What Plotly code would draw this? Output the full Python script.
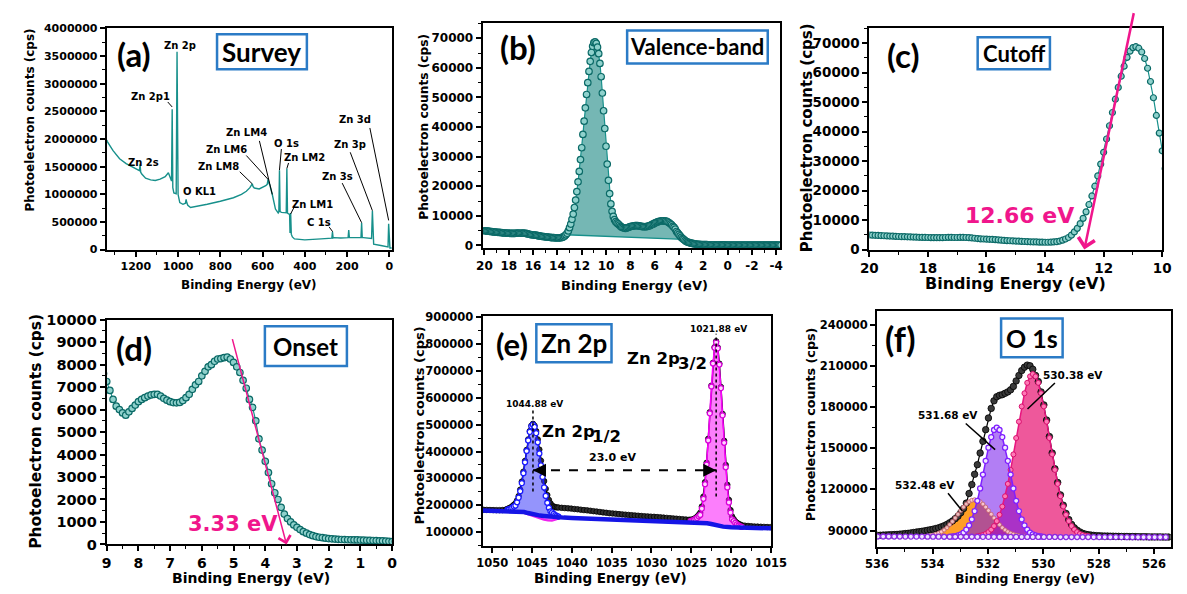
import numpy as np
import plotly.graph_objects as go

W, H = 1187, 594

TEAL = "#17908b"
TEAL_EDGE = "#0b6a67"
TEAL_FACE = "#8fd1cc"
PINK = "#f0168c"
FRAME_BLUE = "#2b7bc6"
TICK_FAMILY = "DejaVu Sans"
LETTER_FAMILY = "Lato"

# ---------------- (a) survey scan ----------------
survey_be = [1338, 1335, 1308, 1277, 1246, 1215, 1192, 1183, 1180, 1177, 1172, 1154, 1130, 1108, 1085,
             1061, 1046, 1036, 1031, 1028, 1025, 1020, 1009, 1005, 1002, 1000, 992, 977, 965, 962,
             959, 954, 941, 900, 862, 800, 738, 700, 677, 660, 653, 649, 645, 639, 616,
             600, 585, 578, 574, 570, 566, 554, 539, 526, 523, 520, 517, 511, 492, 488,
             485, 482, 477, 472, 470, 467, 464, 459, 449, 400, 323, 277, 272, 269, 266,
             262, 230, 195, 192, 189, 185, 150, 134, 131, 128, 123, 92, 84, 80, 77,
             74, 40, 16, 6, 3, 0, -3, -12]
survey_counts = [1980000, 1954000, 1789000, 1643000, 1555000, 1496000, 1455000, 1430000, 1543000, 1400000,
                 1367000, 1291000, 1262000, 1250000, 1275000,
                 1320000, 1391000, 1291000, 1240000, 2540000, 1120000, 1026000, 1010000, 3580000, 1000000,
                 996000, 850000, 820000, 840000, 908000,
                 850000, 803000, 762000, 790000, 820000, 875000, 938000, 1000000, 1056000, 1120000,
                 1160000, 1190000, 1140000, 1114000, 1097000,
                 1120000, 1155000, 1180000, 1273000, 1200000, 1173000, 996000, 733000, 662000, 680000,
                 1437000, 690000, 674000, 662000, 665000,
                 1467000, 660000, 645000, 640000, 300000, 662000, 280000, 230000, 194000, 176000,
                 194000, 205000, 208000, 322000, 210000,
                 217000, 210000, 217000, 352000, 217000, 217000, 212000, 217000, 486000, 217000,
                 217000, 205000, 200000, 704000, 110000,
                 99000, 75000, 58000, 50000, 469000, 35000, 29000, 29000]

survey_names = ["Zn 2p", "Zn 2p1", "Zn 2s", "O KL1", "Zn LM8", "Zn LM6", "Zn LM4", "O 1s",
                "Zn LM2", "Zn LM1", "C 1s", "Zn 3s", "Zn 3p", "Zn 3d"]

# ---------------- (b)-(d) valence-band scan, 0.1 eV steps from 20 eV ----------------
VB_START, VB_STEP = 20.0, 0.1
vb_counts = [
    4950, 4900, 4850, 4800, 4760, 4700, 4650, 4600, 4560, 4500,
    4450, 4400, 4380, 4350, 4300, 4250, 4200, 4180, 4150, 4120,
    4100, 4080, 4050, 4050, 4030, 4050, 4100, 4150, 4150, 4100,
    4100, 4150, 4150, 4100, 4050, 3950, 3850, 3750, 3650, 3600,
    3550, 3500, 3450, 3400, 3300, 3200, 3100, 3050, 3000, 2950,
    2900, 2850, 2800, 2750, 2700, 2650, 2600, 2600, 2550, 2550,
    2500, 2500, 2550, 2600, 2700, 2900, 3200, 3600, 4100, 4900,
    6000, 7200, 8800, 10600, 12800, 15300, 18200, 21500, 25000, 29000,
    33000, 37500, 42000, 46500, 51000, 55000, 58800, 62200, 65200, 67300,
    68500, 68800, 68300, 67000, 64800, 61500, 57000, 51500, 45500, 39500,
    33500, 27500, 22000, 17500, 14000, 11500, 9800, 8700, 8000, 7600,
    7250, 6850, 6450, 6150, 6000, 5850, 5750, 5900, 6050, 6200,
    6350, 6450, 6530, 6600, 6650, 6680, 6680, 6600, 6500, 6420,
    6350, 6310, 6300, 6320, 6400, 6530, 6680, 6900, 7100, 7250,
    7500, 7700, 7900, 8000, 8150, 8250, 8270, 8310, 8330, 8250,
    8100, 7900, 7650, 7300, 6950, 6450, 6100, 5500, 4700, 4200,
    3700, 3200, 2700, 2300, 2000, 1650, 1350, 1150, 1000, 870,
    760, 660, 570, 500, 440, 390, 350, 320, 300, 280,
    260, 250, 240, 230, 220, 215, 210, 205, 200, 200,
    195, 190, 185, 180, 175, 170, 160, 155, 150, 140,
    130, 130, 125, 125, 120, 120, 118, 115, 115, 112,
    110, 110, 108, 105, 105, 102, 100, 100, 98, 95,
    95, 92, 90, 90, 88, 85, 85, 82, 80, 80,
    78, 75, 75, 72, 70, 70, 68, 65, 65, 62,
    60, 60, 58, 55, 55,
]
vb_bg_be = [13.3, 3.6]
vb_bg_counts = [3600, 2000]
CUTOFF_EV = 12.66
ONSET_EV = 3.33
vb_ticks = [20, 18, 16, 14, 12, 10, 8, 6, 4, 2, 0, -2, -4]

# ---------------- (e) Zn 2p ----------------
P12_EV, P32_EV, SPLIT_EV = 1044.88, 1021.88, 23.0
# measured counts, piecewise sampled: (start eV, step eV, counts)
e_segments = [
    (1051.08, 0.4, [183000, 182600, 182300, 182000, 181800, 181800, 182200, 183800]),
    (1048.08, 0.2, [186500, 189000, 192000, 196500, 201500, 207000, 218000, 234000, 258000, 288000,
                    325000, 365000, 406000, 445000, 476000, 496000, 503000, 496000, 476000, 445000,
                    407000, 366000, 326000, 290000, 261000, 238000, 220000, 207000, 199000, 195000,
                    193000, 192000, 191500]),
    (1041.28, 0.4, [190500, 189500, 188500, 187500, 186000, 185000, 183500, 182000, 181000, 179500,
                    178000, 176500, 175000, 173500, 172000, 170500, 169500, 168500, 167000, 166000,
                    165000, 164000, 163000, 162000, 161000, 160000, 159000, 158500, 157500, 157000,
                    156000, 155000, 154000, 153000, 152000, 151000, 150000, 149000, 148000, 147000,
                    146000]),
    (1025.08, 0.2, [146000, 147000, 149000, 152500, 157500, 164000, 172000, 195000, 232000, 286000,
                    358000, 447000, 546000, 645000, 730000, 788000, 810000, 787000, 727000, 640000,
                    540000, 440000, 350000, 276000, 220000, 182000, 158000, 148000, 140000, 135000,
                    131000, 128000, 126000]),
    (1018.28, 0.4, [124000, 123000, 122000, 121000, 120500, 120000, 119500, 119000, 118500]),
]
# fitted components (0.2 eV steps)
e_p12_start = 1048.08
e_p12 = [183300, 185300, 187800, 191200, 195700, 198900, 211100, 228400, 252200, 282500,
         319300, 359900, 401800, 441200, 473100, 493800, 500000, 491300, 468600, 434200,
         392800, 348400, 305300, 266500, 234700, 209400, 190600, 177400, 173200, 167700,
         163500, 160300, 157800]
e_p32_start = 1025.08
e_p32 = [141400, 143000, 145200, 148800, 153100, 158900, 164000, 187600, 224100, 278300,
         351700, 441400, 542000, 641900, 727500, 785900, 806000, 783900, 723500, 635900,
         534500, 432400, 341200, 266300, 210600, 172600, 147500, 141100, 134100, 129100,
         124700, 121700, 119400]
e_bg_be = [1051.2, 1050, 1049, 1048, 1047.5, 1047, 1046.5, 1046, 1045.5, 1045,
           1044.5, 1044, 1043.5, 1043, 1042.5, 1042, 1041, 1040, 1038, 1036,
           1034, 1032, 1030, 1028, 1026, 1025, 1024, 1023, 1022.5, 1022,
           1021.5, 1021, 1020, 1019, 1018, 1017, 1016, 1015]
e_bg_counts = [180500, 180000, 180000, 179500, 179000, 178000, 176500, 175000, 171000, 167000,
               164000, 161500, 160000, 158000, 156500, 155500, 154000, 152500, 150000, 147500,
               145000, 143000, 141000, 139500, 138000, 137500, 136000, 133000, 130000, 126000,
               122500, 120500, 118500, 117000, 116000, 115000, 114500, 114000]
e_bg2_be = [1047.5, 1047, 1046.5, 1046, 1045.5, 1045, 1044.5, 1044, 1043.5, 1043, 1042.5, 1042, 1041.5]
e_bg2_counts = [179000, 177500, 175000, 171000, 166000, 160500, 155000, 150000, 146000, 143000,
                142500, 147000, 152500]

# ---------------- (f) O 1s ----------------
O_PEAKS = [530.38, 531.68, 532.48]
f_start = 535.98
f_counts = [
    86500, 86600, 86700, 86800, 86900, 87000, 87100, 87200, 87400, 87600,
    87800, 88000, 88300, 88600, 88900, 89200, 89500, 89800, 90200, 90600,
    91000, 91500, 92000, 92700, 93500, 94500, 95700, 97000, 98700, 100500,
    103000, 106000, 110000, 117000, 123500, 131000, 138000, 146500, 155000, 163500,
    172000, 179000, 184500, 187500, 188500, 189000, 190000, 191000, 192500, 195000,
    199000, 203000, 206500, 209000, 210500, 210000, 207500, 203000, 198500, 191000,
    181500, 170500, 158500, 146500, 135000, 125000, 116000, 108500, 102500, 98000,
    94500, 92000, 90300, 89000, 88000, 87400, 87000, 86700, 86500, 86300,
    86200, 86100, 86000, 86000, 85900, 85900, 85800, 85800, 85700, 85700,
    85700, 85600, 85600, 85600, 85500, 85500, 85500, 85500, 85400, 85400,
    85400, 85400, 85400, 85300, 85300, 85300,
]
f_pink_start = 532.38
f_pink = [86000, 86300, 86800, 87600, 88900, 90700, 93300, 96900, 101500, 107500,
          115000, 124000, 134200, 145500, 157400, 169300, 180400, 190000, 197600, 202300,
          204000, 202300, 197600, 190000, 180400, 169300, 157400, 145500, 134200, 124000,
          115000, 107500, 101500, 96900, 93300, 90700, 88900, 87600, 86800, 86300, 86000]
f_purple_start = 533.28
f_purple = [85700, 86000, 86500, 87200, 88500, 90700, 93800, 98200, 104200, 111700,
            120700, 130800, 140800, 150400, 158100, 163300, 165000, 163300, 158100, 150400,
            140800, 130800, 120700, 111700, 104200, 98200, 93800, 90700, 88500, 87200,
            86500, 86000, 85700]
f_orange_start = 534.28
f_orange = [85800, 86000, 86300, 86700, 87300, 88100, 89100, 90500, 92100, 94300,
            96600, 99200, 101900, 104600, 107100, 109300, 111000, 112100, 112500, 112100,
            111000, 109300, 107100, 104600, 101900, 99200, 96600, 94300, 92100, 90500,
            89100, 88100, 87300, 86700, 86300, 86000, 85800]
f_base_start = 535.98
f_base = [85700, 85700, 85700, 85650, 85650, 85600, 85600, 85600, 85600, 85550,
          85550, 85550, 85500, 85500, 85500, 85500, 85500, 85500, 85450, 85450,
          85450, 85450, 85400, 85400, 85400, 85400, 85400, 85400, 85350, 85350,
          85350, 85350, 85350, 85300, 85300, 85300, 85300, 85300, 85300, 85250,
          85250, 85250, 85250, 85250, 85250, 85200, 85200, 85200, 85200, 85200,
          85200, 85200, 85200]


def grid(start, step, n):
    return np.round(start - step * np.arange(n), 2)


def closed_region(x_top, y_top, x_low, y_low):
    """Polygon running along the upper curve and back along the lower one."""
    x_top, y_top = np.asarray(x_top, float), np.asarray(y_top, float)
    x_low, y_low = np.asarray(x_low, float), np.asarray(y_low, float)
    lo, hi = x_top.min(), x_top.max()
    keep = (x_low >= lo - 1e-9) & (x_low <= hi + 1e-9)
    xl, yl = x_low[keep], y_low[keep]
    order = np.argsort(xl)  # x_top runs high -> low, so return low -> high
    return list(x_top) + list(xl[order]), list(y_top) + list(yl[order])


traces = []

# (a)
traces.append(go.Scatter(x=survey_be, y=survey_counts, mode="lines",
                         line=dict(color=TEAL, width=1.4), xaxis="x", yaxis="y"))

# valence band arrays
vb_be = grid(VB_START, VB_STEP, len(vb_counts))
vb_arr = np.array(vb_counts, float)


def vb_marker(size):
    return dict(symbol="circle", size=size, color=TEAL_FACE, line=dict(color=TEAL_EDGE, width=1.2))


# (b)
sel = (vb_be <= vb_bg_be[0] + 1e-9) & (vb_be >= vb_bg_be[1] - 1e-9)
bx, by = closed_region(vb_be[sel], vb_arr[sel], vb_bg_be, vb_bg_counts)
traces.append(go.Scatter(x=bx, y=by, fill="toself", fillcolor="rgba(25,135,130,0.6)",
                         mode="lines", line=dict(width=0), xaxis="x2", yaxis="y2"))
traces.append(go.Scatter(x=vb_bg_be, y=vb_bg_counts, mode="lines",
                         line=dict(color=TEAL, width=1.3), xaxis="x2", yaxis="y2"))
traces.append(go.Scatter(x=vb_be, y=vb_arr, mode="lines+markers", line=dict(color=TEAL, width=1.2),
                         marker=vb_marker(6.5), xaxis="x2", yaxis="y2"))
# (c)
traces.append(go.Scatter(x=vb_be, y=vb_arr, mode="lines+markers", line=dict(color=TEAL, width=1.2),
                         marker=vb_marker(6), xaxis="x3", yaxis="y3"))
# (d)
traces.append(go.Scatter(x=vb_be, y=vb_arr, mode="lines+markers", line=dict(color=TEAL, width=1.2),
                         marker=vb_marker(6.5), xaxis="x4", yaxis="y4"))

# (e)
e_be, e_counts = [], []
for start, step, vals in e_segments:
    e_be += list(grid(start, step, len(vals)))
    e_counts += vals
p12_be = grid(e_p12_start, 0.2, len(e_p12))
p32_be = grid(e_p32_start, 0.2, len(e_p32))

traces.append(go.Scatter(x=e_be, y=e_counts, mode="lines+markers", line=dict(color="black", width=1.5),
                         marker=dict(size=5.5, color="#2e2e2e", line=dict(color="black", width=0.8)),
                         xaxis="x5", yaxis="y5"))
fx, fy = closed_region(p12_be, e_p12, e_bg_be, e_bg_counts)
traces.append(go.Scatter(x=fx, y=fy, fill="toself", fillcolor="rgba(60,60,250,0.55)", mode="lines",
                         line=dict(width=0), xaxis="x5", yaxis="y5"))
fx, fy = closed_region(p32_be, e_p32, e_bg_be, e_bg_counts)
traces.append(go.Scatter(x=fx, y=fy, fill="toself", fillcolor="rgba(250,20,250,0.55)", mode="lines",
                         line=dict(width=0), xaxis="x5", yaxis="y5"))
fx, fy = closed_region(e_bg2_be, e_bg2_counts, e_bg_be, e_bg_counts)
traces.append(go.Scatter(x=fx, y=fy, fill="toself", fillcolor="rgba(240,40,240,0.7)", mode="lines",
                         line=dict(width=0), xaxis="x5", yaxis="y5"))
traces.append(go.Scatter(x=e_bg2_be, y=e_bg2_counts, mode="lines", line=dict(color="#ee22ee", width=2),
                         xaxis="x5", yaxis="y5"))
traces.append(go.Scatter(x=p12_be, y=e_p12, mode="lines+markers", line=dict(color="#1a1aff", width=1.5),
                         marker=dict(size=5, color="white", line=dict(color="#1a1aff", width=1.3)),
                         xaxis="x5", yaxis="y5"))
traces.append(go.Scatter(x=p32_be, y=e_p32, mode="lines+markers", line=dict(color="#ff00ff", width=1.5),
                         marker=dict(size=5, color="#ffd6ff", line=dict(color="#d800d8", width=1.3)),
                         xaxis="x5", yaxis="y5"))
traces.append(go.Scatter(x=e_bg_be, y=e_bg_counts, mode="lines", line=dict(color="#1515e6", width=4.5),
                         xaxis="x5", yaxis="y5"))

# (f)
f_be = grid(f_start, 0.1, len(f_counts))
pink_be = grid(f_pink_start, 0.1, len(f_pink))
purple_be = grid(f_purple_start, 0.1, len(f_purple))
orange_be = grid(f_orange_start, 0.1, len(f_orange))
base_be = grid(f_base_start, 0.2, len(f_base))

for cx, cy, col in [(orange_be, f_orange, "rgba(255,150,20,0.92)"),
                    (pink_be, f_pink, "rgba(232,30,120,0.74)"),
                    (purple_be, f_purple, "rgba(115,20,235,0.55)")]:
    fx, fy = closed_region(cx, cy, base_be, f_base)
    traces.append(go.Scatter(x=fx, y=fy, fill="toself", fillcolor=col, mode="lines",
                             line=dict(width=0), xaxis="x6", yaxis="y6"))
traces.append(go.Scatter(x=f_be, y=f_counts, mode="lines+markers", line=dict(color="black", width=1.2),
                         marker=dict(size=6.5, color="#3a3a3a", line=dict(color="black", width=0.8)),
                         xaxis="x6", yaxis="y6"))
traces.append(go.Scatter(x=orange_be, y=f_orange, mode="markers",
                         marker=dict(size=4, color="rgba(255,205,205,0.9)", line=dict(color="#c0606a", width=0.8)),
                         xaxis="x6", yaxis="y6"))
traces.append(go.Scatter(x=pink_be, y=f_pink, mode="lines+markers", line=dict(color="#e8157f", width=1.5),
                         marker=dict(size=5, color="#ff78b5", line=dict(color="#d8106e", width=1)),
                         xaxis="x6", yaxis="y6"))
traces.append(go.Scatter(x=purple_be, y=f_purple, mode="lines+markers", line=dict(color="#7f1fff", width=1.5),
                         marker=dict(size=5, color="#f0e6ff", line=dict(color="#7f1fff", width=1.3)),
                         xaxis="x6", yaxis="y6"))
traces.append(go.Scatter(x=base_be, y=f_base, mode="lines+markers", line=dict(color="#8a2be2", width=2),
                         marker=dict(size=5, color="#f0e6ff", line=dict(color="#8a2be2", width=1.3)),
                         xaxis="x6", yaxis="y6"))


# ---------------- layout helpers ----------------
def px_x(x0, x1):
    return [x0 / W, x1 / W]


def px_y(top, bottom):
    return [1 - bottom / H, 1 - top / H]


def axis(dom, rng, dtick, minor_dtick, size, anchor, tick0=0, fmt=None):
    ax = dict(domain=dom, range=rng, dtick=dtick, tick0=tick0, anchor=anchor, autorange=False,
              showline=True, linewidth=2, linecolor="black", mirror=True,
              ticks="outside", ticklen=5, tickwidth=1.5, tickcolor="black",
              showgrid=False, zeroline=False,
              tickfont=dict(family=TICK_FAMILY, size=size, color="black", weight="bold"),
              minor=dict(ticks="outside", ticklen=3, tickwidth=1.2, tickcolor="black",
                         dtick=minor_dtick, tick0=tick0, showgrid=False))
    if fmt:
        ax["tickformat"] = fmt
    return ax


xaxis2 = axis(px_x(482, 787), [20.15, -4.35], 2, 1, 12, "y2")
xaxis2.update(tickmode="array", tickvals=vb_ticks, ticktext=[str(t) for t in vb_ticks])

layout = dict(
    width=W, height=H, margin=dict(l=0, r=0, t=0, b=0),
    paper_bgcolor="white", plot_bgcolor="white", showlegend=False,
    xaxis=axis(px_x(97, 389), [1338, -12], 200, 100, 11, "y"),
    yaxis=axis(px_y(21, 248.3), [0, 4000000], 500000, 250000, 11, "x", fmt="d"),
    xaxis2=xaxis2,
    yaxis2=axis(px_y(15, 247), [-1000, 75300], 10000, 5000, 12, "x2", fmt="d"),
    xaxis3=axis(px_x(878, 1178), [20, 10], 2, 1, 13.5, "y3"),
    yaxis3=axis(px_y(21, 248.3), [0, 75000], 10000, 5000, 13.5, "x3", fmt="d"),
    xaxis4=axis(px_x(97, 389.3), [9, 0], 1, 0.5, 14, "y4"),
    yaxis4=axis(px_y(320.3, 551.3), [0, 10000], 1000, 500, 14.5, "x4", fmt="d"),
    xaxis5=axis(px_x(482, 777.3), [1051.2, 1015], 5, 2.5, 11.5, "y5"),
    yaxis5=axis(px_y(316.3, 553), [48000, 905000], 100000, 50000, 11.5, "x5", fmt="d"),
    xaxis6=axis(px_x(886, 1186.7), [536, 525.4], 2, 1, 11.5, "y6"),
    yaxis6=axis(px_y(311, 553.7), [78200, 250200], 30000, 15000, 11.5, "x6", fmt="d"),
)

annotations = []
shapes = []


def paper_text(text, cx, cy, size, family=TICK_FAMILY, angle=0, color="black"):
    annotations.append(dict(text=text, x=cx / W, y=1 - cy / H, xref="paper", yref="paper",
                            xanchor="center", yanchor="middle", showarrow=False, textangle=angle,
                            font=dict(family=family, size=size, color=color, weight="bold")))


# axis titles
YT, XT = "Photoelectron counts (cps)", "Binding Energy (eV)"
for text, cx, cy, size, ang in [
    (YT, 18, 115, 12, -90), (XT, 243, 285, 12, 0),
    (YT, 422, 122, 12.2, -90), (XT, 638, 285, 13, 0),
    (YT, 815, 133, 15, -90), (XT, 1028, 283, 16, 0),
    (YT, 25, 435, 15.4, -90), (XT, 245, 585.5, 14, 0),
    (YT, 417, 429, 13, -90), (XT, 613, 586, 13.5, 0),
    (YT, 818, 428, 12.7, -90), (XT, 1037, 586, 12.4, 0),
]:
    paper_text(text, cx, cy, size, angle=ang)

# panel letters
for text, cx, cy, size in [("(a)", 125, 47, 33), ("(b)", 518, 40, 33), ("(c)", 913, 48, 33),
                           ("(d)", 125, 349, 33), ("(e)", 512, 345, 31), ("(f)", 910, 340, 34)]:
    paper_text(text, cx, cy, size, family=LETTER_FAMILY)

# framed panel titles
for text, x0, y0, x1, y1, size in [("Survey", 210, 27, 302, 63, 26),
                                   ("Valence-band", 630, 23, 774, 57, 22),
                                   ("Cutoff", 989, 30, 1063, 63, 22),
                                   ("Onset", 259, 327, 343, 368, 24),
                                   ("Zn 2p", 537, 325, 614, 364, 26),
                                   ("O 1s", 1013, 319, 1076, 359, 25)]:
    shapes.append(dict(type="rect", xref="paper", yref="paper", x0=x0 / W, x1=x1 / W,
                       y0=1 - y1 / H, y1=1 - y0 / H, line=dict(color=FRAME_BLUE, width=2.5),
                       fillcolor="rgba(0,0,0,0)", layer="above"))
    paper_text(text, (x0 + x1) / 2, (y0 + y1) / 2, size, family=LETTER_FAMILY)


def data_text(text, x, y, ax_id, size, color="black"):
    annotations.append(dict(text=text, x=x, y=y, xref="x" + ax_id, yref="y" + ax_id, showarrow=False,
                            xanchor="center", yanchor="middle",
                            font=dict(family=TICK_FAMILY, size=size, color=color, weight="bold")))


def data_line(x0, y0, x1, y1, ax_id, width=1.0, dash="solid", color="black"):
    shapes.append(dict(type="line", xref="x" + ax_id, yref="y" + ax_id, x0=x0, y0=y0, x1=x1, y1=y1,
                       line=dict(color=color, width=width, dash=dash), layer="above"))


# (a) peak assignments
survey_label_pos = [(992, 3.70e6), (1131, 2.776e6), (1162, 1.567e6), (900, 1.056e6), (808, 1.496e6),
                    (769, 1.819e6), (677, 2.124e6), (485, 1.919e6), (400, 1.661e6), (362, 0.822e6),
                    (331, 0.499e6), (246, 1.32e6), (185, 1.907e6), (162, 2.347e6)]
for name, (lx, ly) in zip(survey_names, survey_label_pos):
    data_text(name, lx, ly, "", 10)
for seg in [(1049, 2.67e6, 1028, 2.58e6), (708, 1.408e6, 649, 1.19e6), (677, 1.702e6, 574, 1.27e6),
            (615, 1.966e6, 554, 0.998e6), (511, 1.819e6, 520, 1.438e6), (477, 1.567e6, 485, 1.467e6),
            (449, 0.78e6, 467, 0.646e6), (285, 0.411e6, 268, 0.323e6), (223, 1.203e6, 131, 0.487e6),
            (185, 1.76e6, 80, 0.704e6), (92, 2.2e6, 3, 0.528e6)]:
    data_line(*seg, "", width=1.0)

# (c) cutoff tangent
annotations.append(dict(text="", x=CUTOFF_EV, y=0, xref="x3", yref="y3", ax=10.96, ay=80700,
                        axref="x3", ayref="y3", showarrow=True, arrowhead=4, arrowsize=1.3,
                        arrowwidth=2.5, arrowcolor=PINK))
data_text(f"{CUTOFF_EV:.2f} eV", 14.86, 11500, "3", 22, color=PINK)

# (d) onset tangent
annotations.append(dict(text="", x=ONSET_EV, y=0, xref="x4", yref="y4", ax=5.05, ay=9200,
                        axref="x4", ayref="y4", showarrow=True, arrowhead=4, arrowsize=1.6,
                        arrowwidth=1.5, arrowcolor=PINK))
data_text(f"{ONSET_EV:.2f} eV", 5.02, 900, "4", 21, color=PINK)

# (e) peak positions and spin-orbit splitting
data_line(P12_EV, 251000, P12_EV, 560000, "5", width=1.5, dash="dot")
data_line(P32_EV, 233000, P32_EV, 838000, "5", width=1.5, dash="dot")
data_text(f"{P12_EV:.2f} eV", 1044.7, 577000, "5", 9)
data_text(f"{P32_EV:.2f} eV", 1021.62, 854000, "5", 9)
data_line(P12_EV, 330000, P32_EV, 330000, "5", width=2, dash="dash")
for tip, tail in [(P12_EV, P12_EV - 1.6), (P32_EV, P32_EV + 1.6)]:
    annotations.append(dict(text="", x=tip, y=330000, xref="x5", yref="y5", ax=tail, ay=330000,
                            axref="x5", ayref="y5", showarrow=True, arrowhead=2, arrowsize=1.3,
                            arrowwidth=2, arrowcolor="black"))
data_text(f"{SPLIT_EV:.1f} eV", 1034.9, 378000, "5", 11)
data_text("Zn 2p", 1029.8, 745600, "5", 16.5)
data_text("3/2", 1024.9, 727500, "5", 16.5)
data_text("Zn 2p", 1040.4, 474300, "5", 16.5)
data_text("1/2", 1035.6, 456200, "5", 16.5)

# (f) component positions
for pos, (tx, ty), seg in zip(O_PEAKS,
                              [(528.93, 203000), (533.44, 173900), (534.27, 123000)],
                              [(529.58, 197500, 530.57, 178600), (532.8, 168000, 531.74, 149000),
                               (533.44, 117200, 532.92, 104200)]):
    data_text(f"{pos:.2f} eV", tx, ty, "6", 10.5)
    data_line(*seg, "6", width=1.5)

layout["annotations"] = annotations
layout["shapes"] = shapes

fig = go.Figure(data=traces, layout=layout)
fig.write_html("out.html")
